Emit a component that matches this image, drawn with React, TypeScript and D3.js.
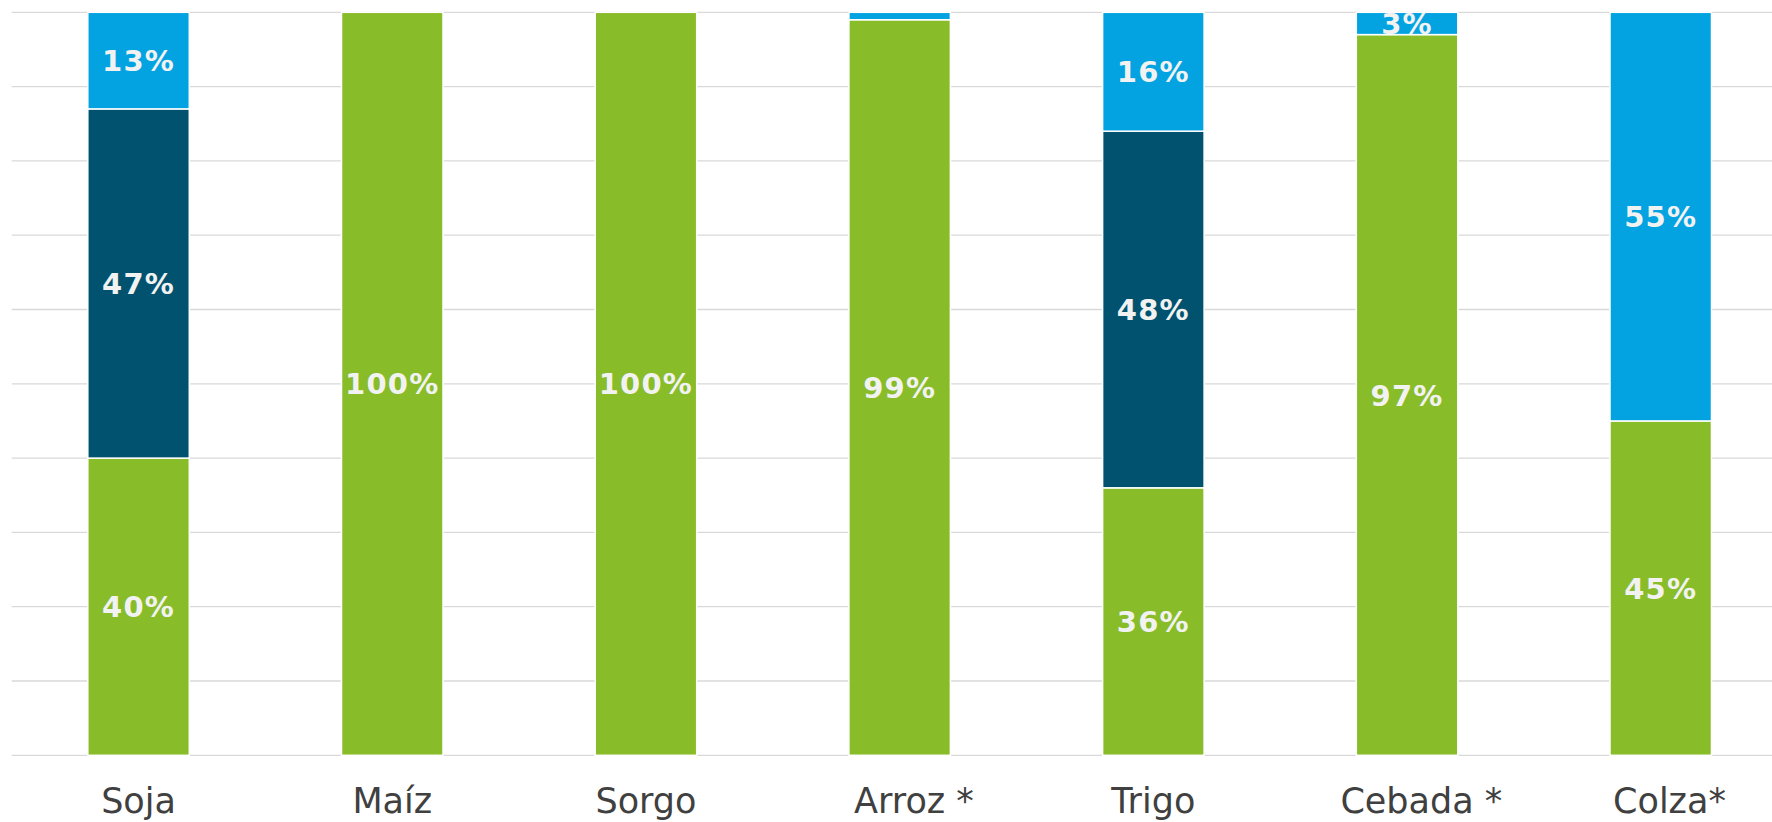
import React, { useEffect, useRef } from "react";
import * as d3 from "d3";

const categories = ["Soja", "Maíz", "Sorgo", "Arroz", "Trigo", "Cebada", "Colza"];
const suffixes = ["", "", "", " *", "", " *", "*"];
const seriesKeys = ["green", "dark", "blue"];
const greenValues = [40, 100, 100, 99, 36, 97, 45];
const darkValues = [47, 0, 0, 0, 48, 0, 0];
const blueValues = [13, 0, 0, 1, 16, 3, 55];
const greenLabels = ["40%", "100%", "100%", "99%", "36%", "97%", "45%"];
const darkLabels = ["47%", "", "", "", "48%", "", ""];
const blueLabels = ["13%", "", "", "", "16%", "3%", "55%"];
const yTicks = [0, 10, 20, 30, 40, 50, 60, 70, 80, 90, 100];

const colors: Record<string, string> = { green: "#88BD29", dark: "#01526F", blue: "#02A3E0" };

const W = 1772;
const H = 822;
const top = 12.3;
const bottom = 755.3;
const left = 11.7;
const step = 253.7;

export default function App() {
  const ref = useRef<SVGSVGElement>(null);

  useEffect(() => {
    const svg = d3.select(ref.current);
    svg.selectAll("*").remove();

    const rows = categories.map((c, i) => ({
      cat: c,
      green: greenValues[i],
      dark: darkValues[i],
      blue: blueValues[i],
      labels: { green: greenLabels[i], dark: darkLabels[i], blue: blueLabels[i] } as Record<string, string>,
    }));

    const x = d3
      .scaleBand<string>()
      .domain(categories)
      .range([left, left + step * categories.length])
      .paddingInner(0.6)
      .paddingOuter(0.3);
    const y = d3.scaleLinear().domain([0, 100]).range([bottom, top]);

    const defs = svg.append("defs");
    defs
      .append("clipPath")
      .attr("id", "plotclip")
      .append("rect")
      .attr("x", 0)
      .attr("y", top)
      .attr("width", W)
      .attr("height", bottom - top);

    svg
      .append("g")
      .selectAll("line")
      .data(yTicks)
      .join("line")
      .attr("x1", left)
      .attr("x2", W)
      .attr("y1", (d) => y(d))
      .attr("y2", (d) => y(d))
      .attr("stroke", "#d9d9d9")
      .attr("stroke-width", 1.3);

    const stack = d3.stack<any>().keys(seriesKeys);
    const series = stack(rows as any);

    const g = svg.append("g");
    series.forEach((s) => {
      const key = s.key;
      g.append("g")
        .selectAll("rect")
        .data(s.filter((d) => d[1] - d[0] > 0))
        .join("rect")
        .attr("x", (d) => x(d.data.cat)!)
        .attr("width", x.bandwidth())
        .attr("y", (d) => y(d[1]))
        .attr("height", (d) => y(d[0]) - y(d[1]))
        .attr("fill", colors[key])
        .attr("stroke", "#ffffff")
        .attr("stroke-width", 1.5);
    });

    const lg = svg.append("g").attr("clip-path", "url(#plotclip)");
    series.forEach((s) => {
      const key = s.key;
      lg.append("g")
        .selectAll("text")
        .data(s.filter((d) => d[1] - d[0] > 0 && d.data.labels[key]))
        .join("text")
        .attr("x", (d) => x(d.data.cat)! + x.bandwidth() / 2)
        .attr("y", (d) => (y(d[0]) + y(d[1])) / 2 + 10.6)
        .attr("text-anchor", "middle")
        .attr("font-family", "DejaVu Sans, Verdana, sans-serif")
        .attr("font-weight", "bold")
        .attr("font-size", 29)
        .attr("letter-spacing", 1.2)
        .attr("fill", "#f2f2f2")
        .text((d) => d.data.labels[key]);
    });

    const ag = svg.append("g");
    categories.forEach((c, i) => {
      const cx = x(c)! + x.bandwidth() / 2;
      const t = ag
        .append("text")
        .attr("y", 813)
        .attr("font-family", "DejaVu Sans, Verdana, sans-serif")
        .attr("font-size", 35)
        .attr("fill", "#404040")
        .text(c);
      const w = (t.node() as SVGTextElement).getComputedTextLength();
      t.attr("x", cx - w / 2);
      if (suffixes[i]) t.append("tspan").text(suffixes[i]);
    });
  }, []);

  return (
    <svg
      ref={ref}
      width={W}
      height={H}
      style={{ position: "absolute", left: 0, top: 0, background: "#ffffff" }}
    />
  );
}
